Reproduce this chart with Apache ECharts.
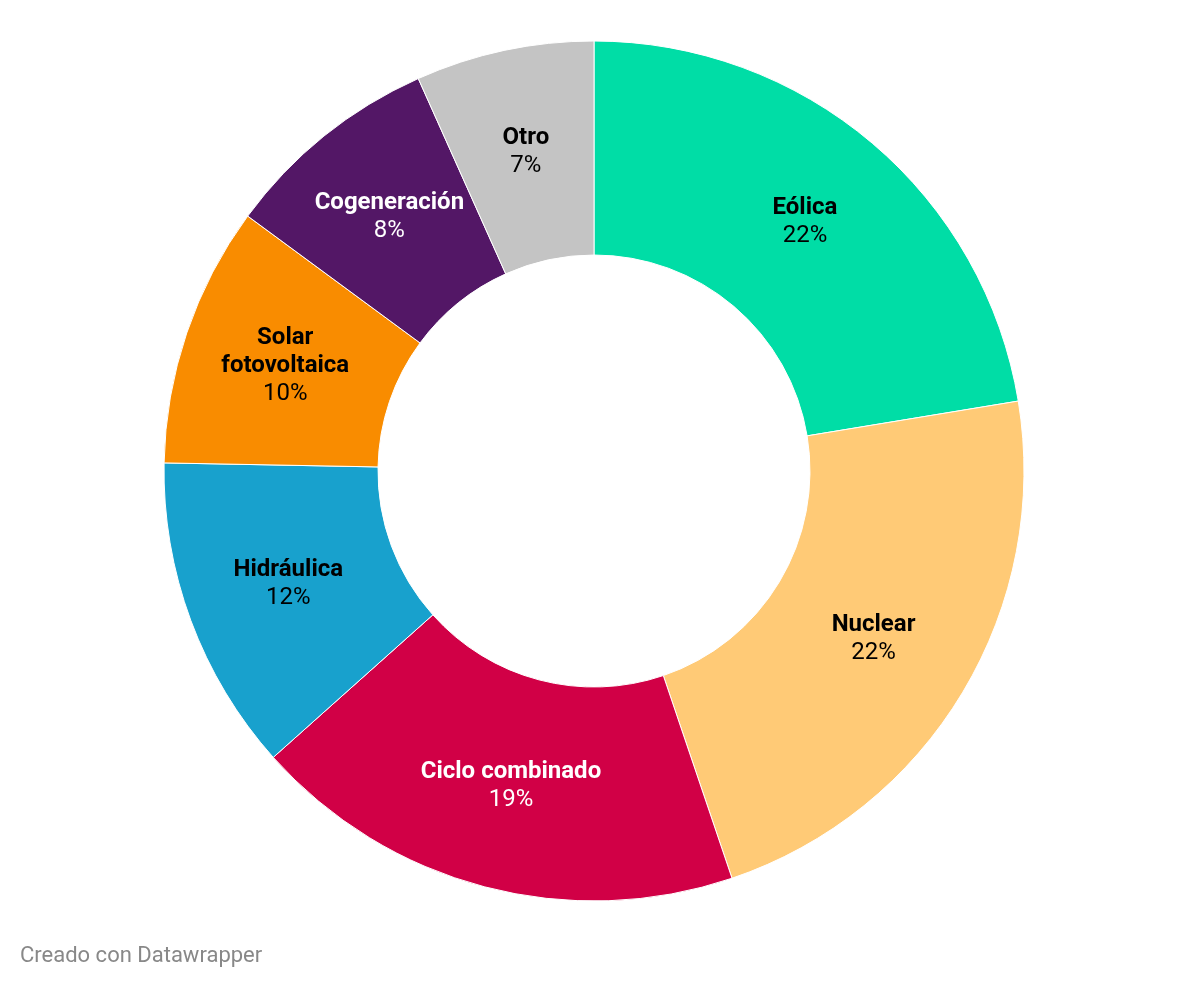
<!DOCTYPE html>
<html>
<head>
<meta charset="utf-8">
<script src="https://cdn.jsdelivr.net/npm/echarts@6/dist/echarts.min.js"></script>
<style>
html,body{margin:0;padding:0;background:#fff;}
#chart{width:1188px;height:988px;}
</style>
</head>
<body>
<div id="chart"></div>
<script>
const categories = ['Eólica','Nuclear','Ciclo combinado','Hidráulica','Solar\nfotovoltaica','Cogeneración','Otro'];
const values = [22.4, 22.4, 18.6, 11.9, 9.8, 8.2, 6.7];
const colors = ['#00DDA6','#FFCA76','#D10046','#18A1CD','#F98C00','#531766','#C4C4C4'];
const labelColors = ['#000','#000','#fff','#000','#000','#fff','#000'];

const chart = echarts.init(document.getElementById('chart'));
chart.setOption({
  animation:false,
  graphic:[{type:'text',left:20,top:945,style:{text:'Creado con Datawrapper',fill:'#888',font:'22px Roboto'}}],
  series:[{
    type:'pie',
    center:[594,471],
    radius:[216,430],
    startAngle:90,
    clockwise:true,
    itemStyle:{borderColor:'#fff',borderWidth:1},
    label:{
      position:'inside',
      fontFamily:'Roboto',
      lineHeight:28,
      formatter:p=>'{b|'+p.name.split('\n').join('}\n{b|')+'}\n{v|'+Math.round(p.value)+'%}',
    },
    labelLine:{show:false},
    emphasis:{disabled:true},
    data:categories.map((c,i)=>({
      name:c,value:values[i],
      itemStyle:{color:colors[i]},
      label:{rich:{
        b:{fontWeight:'bold',fontSize:24,fontFamily:'Roboto',color:labelColors[i],lineHeight:28},
        v:{fontSize:24,fontFamily:'Roboto',color:labelColors[i],lineHeight:28}
      }}
    }))
  }]
});
</script>
</body>
</html>
